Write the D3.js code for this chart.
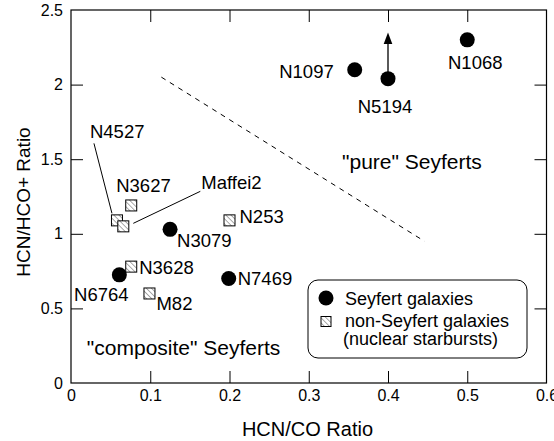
<!DOCTYPE html>
<html>
<head>
<meta charset="utf-8">
<script src="https://cdn.jsdelivr.net/npm/d3@7"></script>
<style>
  body { margin: 0; background: #fff; }
  text { font-family: "Liberation Sans", Arial, sans-serif; fill: #000; }
</style>
</head>
<body>
<div id="chart"></div>
<script>
// Seyfert galaxies (filled circles)
var seyfertNames = ["N1068", "N1097", "N5194", "N3079", "N6764", "N7469"];
var seyfertX     = [0.50, 0.358, 0.40, 0.125, 0.061, 0.199];
var seyfertY     = [2.30, 2.10, 2.04, 1.03, 0.725, 0.70];

// non-Seyfert galaxies (hatched squares)
var starburstNames = ["N3627", "N4527", "Maffei2", "N253", "N3628", "M82"];
var starburstX     = [0.076, 0.058, 0.066, 0.20, 0.076, 0.099];
var starburstY     = [1.19, 1.09, 1.05, 1.09, 0.78, 0.60];

// N5194 is a lower limit
var limitName = "N5194";
var limitTop = 2.35;

// dividing line between pure and composite Seyferts
var dividerX = [0.114, 0.446];
var dividerY = [2.05, 0.95];

var xTicks = [0, 0.1, 0.2, 0.3, 0.4, 0.5, 0.6];
var yTicks = [0, 0.5, 1, 1.5, 2, 2.5];

var regionLabels = ['"pure" Seyferts', '"composite" Seyferts'];
var regionX = [0.342, 0.02];
var regionY = [1.434, 0.188];

var width = 554, height = 441;
var margin = {left: 71, top: 10, right: 7, bottom: 58};

// label offsets in px from the marker: [dx, dy, anchor]
var labelPos = {
  "N1068": [8, 29, "middle"],
  "N1097": [-21, 8, "end"],
  "N5194": [-3, 34, "middle"],
  "N3079": [7, 18, "start"],
  "N6764": [-18, 26, "middle"],
  "N7469": [9, 6, "start"],
  "N3627": [-15, -13, "start"],
  "N4527": [-27, -82, "start"],
  "Maffei2": [78, -37, "start"],
  "N253": [10, 3, "start"],
  "N3628": [8, 7, "start"],
  "M82": [7, 17, "start"]
};
// leader lines [x1,y1,x2,y2] relative to marker
var leaders = {
  "N4527": [-23, -77, -5, -7],
  "Maffei2": [77, -35, 10, -3]
};

var svg = d3.select("#chart").append("svg")
  .attr("width", width).attr("height", height);

var x = d3.scaleLinear().domain([0, 0.6]).range([margin.left, width - margin.right - 0.5]);
var y = d3.scaleLinear().domain([0, 2.5]).range([height - margin.bottom, margin.top]);

var defs = svg.append("defs");
var pat = defs.append("pattern")
  .attr("id", "hatch")
  .attr("patternUnits", "userSpaceOnUse")
  .attr("width", 3.6).attr("height", 3.6)
  .attr("patternTransform", "rotate(-45)");
pat.append("rect").attr("width", 3.6).attr("height", 3.6).attr("fill", "#fff");
pat.append("line").attr("x1", 0).attr("y1", 0).attr("x2", 0).attr("y2", 3.6)
  .attr("stroke", "#555").attr("stroke-width", 1);

var ih = y(0) - y(2.5);
var iw = x(0.6) - x(0);
var tickLen = 12;

function styleAxis(g) {
  g.select(".domain").remove();
  g.selectAll("line").attr("stroke", "#000").attr("stroke-width", 1);
  g.selectAll("text").attr("font-size", 16)
    .style("font-family", '"Liberation Sans", Arial, sans-serif');
}
var inner = function(v, list) { return v !== list[0] && v !== list[list.length - 1]; };

svg.append("g").attr("transform", "translate(0," + y(0) + ")")
  .call(d3.axisBottom(x).tickValues(xTicks).tickFormat(function(d) { return d; })
    .tickSize(-tickLen).tickPadding(7))
  .call(styleAxis)
  .selectAll(".tick line").filter(function(d) { return !inner(d, xTicks); }).remove();

svg.append("g").attr("transform", "translate(0," + y(2.5) + ")")
  .call(d3.axisTop(x).tickValues(xTicks.filter(function(d) { return inner(d, xTicks); }))
    .tickFormat("").tickSize(-tickLen))
  .call(styleAxis);

svg.append("g").attr("transform", "translate(" + x(0) + ",0)")
  .call(d3.axisLeft(y).tickValues(yTicks).tickFormat(function(d) { return d; })
    .tickSize(-tickLen).tickPadding(8))
  .call(styleAxis)
  .selectAll(".tick line").filter(function(d) { return !inner(d, yTicks); }).remove();

svg.append("g").attr("transform", "translate(" + x(0.6) + ",0)")
  .call(d3.axisRight(y).tickValues(yTicks.filter(function(d) { return inner(d, yTicks); }))
    .tickFormat("").tickSize(-tickLen))
  .call(styleAxis);

svg.append("rect")
  .attr("x", x(0)).attr("y", y(2.5)).attr("width", iw).attr("height", ih)
  .attr("fill", "none").attr("stroke", "#000").attr("stroke-width", 1.2);

// axis titles
svg.append("text").attr("x", 307.5).attr("y", 436)
  .attr("text-anchor", "middle").attr("font-size", 20).text("HCN/CO Ratio");
svg.append("text").attr("transform", "translate(30,202) rotate(-90)")
  .attr("text-anchor", "middle").attr("font-size", 19).text("HCN/HCO+ Ratio");

// divider
svg.append("line")
  .attr("x1", x(dividerX[0])).attr("y1", y(dividerY[0]))
  .attr("x2", x(dividerX[1])).attr("y2", y(dividerY[1]))
  .attr("stroke", "#000").attr("stroke-width", 1).attr("stroke-dasharray", "5,5");

// region labels
svg.selectAll(".region").data(regionLabels).enter().append("text")
  .attr("class", "region")
  .attr("x", function(d, i) { return x(regionX[i]); })
  .attr("y", function(d, i) { return y(regionY[i]); })
  .attr("font-size", 21).text(function(d) { return d; });

var seyferts = seyfertNames.map(function(n, i) { return {name: n, x: seyfertX[i], y: seyfertY[i]}; });
var bursts = starburstNames.map(function(n, i) { return {name: n, x: starburstX[i], y: starburstY[i]}; });

// lower-limit arrow
var lim = seyferts.filter(function(d) { return d.name === limitName; })[0];
svg.append("line")
  .attr("x1", x(lim.x)).attr("y1", y(lim.y))
  .attr("x2", x(lim.x)).attr("y2", y(limitTop) + 10)
  .attr("stroke", "#000").attr("stroke-width", 1.3);
svg.append("path")
  .attr("d", "M" + x(lim.x) + "," + y(limitTop) + "l-4.3,11.5h8.6z")
  .attr("fill", "#000");

// leader lines
bursts.forEach(function(d) {
  var l = leaders[d.name];
  if (!l) return;
  svg.append("line")
    .attr("x1", x(d.x) + l[0]).attr("y1", y(d.y) + l[1])
    .attr("x2", x(d.x) + l[2]).attr("y2", y(d.y) + l[3])
    .attr("stroke", "#000").attr("stroke-width", 1);
});

var sq = 11;
svg.selectAll(".burst").data(bursts).enter().append("rect")
  .attr("class", "burst")
  .attr("x", function(d) { return x(d.x) - sq / 2; })
  .attr("y", function(d) { return y(d.y) - sq / 2; })
  .attr("width", sq).attr("height", sq)
  .attr("fill", "url(#hatch)").attr("stroke", "#000").attr("stroke-width", 1);

svg.selectAll(".sey").data(seyferts).enter().append("circle")
  .attr("class", "sey")
  .attr("cx", function(d) { return x(d.x); })
  .attr("cy", function(d) { return y(d.y); })
  .attr("r", 7.5).attr("fill", "#000");

svg.selectAll(".lab").data(seyferts.concat(bursts)).enter().append("text")
  .attr("class", "lab")
  .attr("x", function(d) { return x(d.x) + labelPos[d.name][0]; })
  .attr("y", function(d) { return y(d.y) + labelPos[d.name][1]; })
  .attr("text-anchor", function(d) { return labelPos[d.name][2]; })
  .attr("font-size", 18.5).text(function(d) { return d.name; });

// legend
var lg = svg.append("g").attr("transform", "translate(308,280)");
lg.append("rect").attr("width", 219).attr("height", 78).attr("rx", 10).attr("ry", 10)
  .attr("fill", "#fff").attr("stroke", "#000").attr("stroke-width", 1);
lg.append("circle").attr("cx", 18).attr("cy", 18).attr("r", 7.5).attr("fill", "#000");
lg.append("rect").attr("x", 13).attr("y", 36.5).attr("width", 10).attr("height", 10)
  .attr("fill", "url(#hatch)").attr("stroke", "#000").attr("stroke-width", 1);
lg.append("text").attr("x", 37).attr("y", 24.5).attr("font-size", 18).text("Seyfert galaxies");
lg.append("text").attr("x", 37).attr("y", 47).attr("font-size", 18).text("non-Seyfert galaxies");
lg.append("text").attr("x", 35).attr("y", 65).attr("font-size", 18).text("(nuclear starbursts)");
</script>
</body>
</html>
